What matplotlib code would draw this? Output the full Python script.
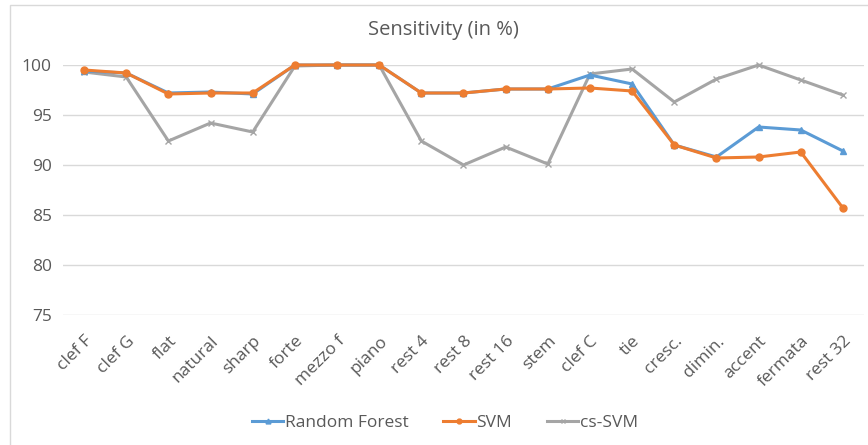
import matplotlib
matplotlib.use("Agg")
import matplotlib.pyplot as plt
from matplotlib.patches import Rectangle

plt.rcParams['font.family'] = ['Open Sans', 'DejaVu Sans']

categories = ["clef F", "clef G", "flat", "natural", "sharp", "forte", "mezzo f",
              "piano", "rest 4", "rest 8", "rest 16", "stem", "clef C", "tie",
              "cresc.", "dimin.", "accent", "fermata", "rest 32"]
random_forest = [99.4, 99.2, 97.2, 97.3, 97.1, 100, 100, 100, 97.2, 97.2, 97.6,
                 97.6, 99.0, 98.1, 92.0, 90.8, 93.8, 93.5, 91.4]
svm = [99.5, 99.2, 97.1, 97.2, 97.2, 100, 100, 100, 97.2, 97.2, 97.6,
       97.6, 97.7, 97.4, 92.0, 90.7, 90.8, 91.3, 85.7]
cs_svm = [99.3, 98.8, 92.4, 94.2, 93.3, 99.9, 100, 100, 92.4, 90.0, 91.8,
          90.1, 99.1, 99.6, 96.3, 98.6, 100, 98.5, 97.0]
yticks = [75, 80, 85, 90, 95, 100]

text_col = "#595959"
fig = plt.figure(figsize=(8.68, 4.45), dpi=100)
ax = fig.add_axes([63 / 868, 130 / 445, 801 / 868, 250 / 445])

x = range(len(categories))
ax.plot(x, random_forest, color="#5B9BD5", lw=2.2, marker="^", ms=5,
        label="Random Forest", clip_on=False, zorder=3)
ax.plot(x, svm, color="#ED7D31", lw=2.2, marker="o", ms=5,
        label="SVM", clip_on=False, zorder=4)
ax.plot(x, cs_svm, color="#A5A5A5", lw=2.2, marker="x", ms=5,
        label="cs-SVM", clip_on=False, zorder=2)

ax.set_xlim(-0.5, len(categories) - 0.5)
ax.set_ylim(75, 100)
ax.set_yticks(yticks)
ax.set_yticklabels([str(v) for v in yticks], fontsize=12.5, color=text_col)
ax.set_xticks(list(x))
ax.set_xticklabels(categories, rotation=45, ha="right", rotation_mode="anchor",
                   fontsize=12.5, color=text_col)
ax.tick_params(length=0, pad=8)
ax.tick_params(axis="x", pad=13)
ax.grid(axis="y", color="#D9D9D9", lw=1)
ax.set_axisbelow(True)
for s in ax.spines.values():
    s.set_visible(False)

fig.text(443 / 868, 1 - 30 / 445, "Sensitivity (in %)", ha="center", va="center",
         fontsize=14.5, color=text_col)
fig.legend(loc="center", bbox_to_anchor=(445 / 868, 1 - 423 / 445), ncol=3,
           frameon=False, fontsize=12.5, labelcolor=text_col, handlelength=1.8,
           handletextpad=0.1, columnspacing=2.0, markerscale=0.7)
fig.patches.append(Rectangle((10 / 868, -0.01), 1.0, 1 - 5 / 445 + 0.01,
                             transform=fig.transFigure, fill=False,
                             edgecolor="#D9D9D9", lw=1))

fig.savefig("out.png", dpi=100)
